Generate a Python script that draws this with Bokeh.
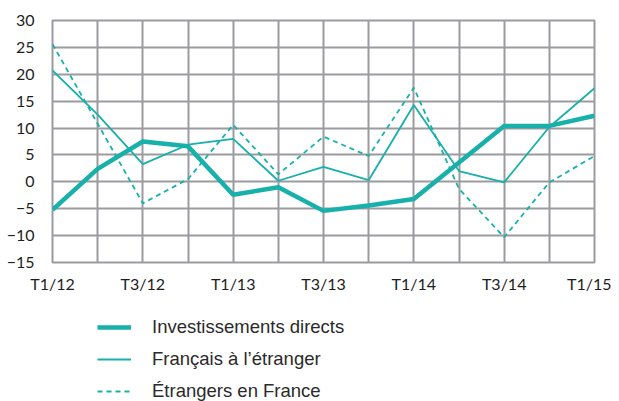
from bokeh.plotting import figure
from bokeh.layouts import column
from bokeh.models import Range1d, FixedTicker, Legend, LegendItem
from bokeh.embed import file_html
from bokeh.resources import INLINE

quarters = list(range(13))
tick_labels = ["T1/12", "", "T3/12", "", "T1/13", "", "T3/13", "", "T1/14", "", "T3/14", "", "T1/15"]
investissements = [-5.2, 2.4, 7.5, 6.6, -2.4, -1.0, -5.4, -4.4, -3.2, 3.6, 10.4, 10.4, 12.3]
francais = [20.7, 12.5, 3.3, 6.9, 8.0, 0.2, 2.8, 0.3, 14.3, 2.0, -0.1, 10.2, 17.4]
etrangers = [25.6, 10.8, -4.0, 0.5, 10.6, 1.4, 8.4, 4.8, 17.5, -1.3, -10.3, -0.1, 4.8]
y_ticks = [-15, -10, -5, 0, 5, 10, 15, 20, 25, 30]
series_names = ["Investissements directs", "Français à l’étranger", "Étrangers en France"]

TEAL = "#17B0AA"
GRID = "#9B9B9F"
TICKFONT = "Lato"
STYLES = [dict(line_width=4.5), dict(line_width=1.8), dict(line_width=1.8, line_dash="5 4")]

p = figure(width=611, height=300, output_backend="svg", toolbar_location=None,
           x_range=Range1d(0, 12), y_range=Range1d(-15, 30),
           min_border_left=52, min_border_right=17, min_border_top=20, min_border_bottom=38)
p.outline_line_color = GRID
p.outline_line_width = 2
p.background_fill_color = "white"

p.xaxis.ticker = FixedTicker(ticks=quarters)
p.xaxis.major_label_overrides = {i: t for i, t in zip(quarters, tick_labels)}
p.yaxis.ticker = FixedTicker(ticks=y_ticks)
for ax in (p.xaxis[0], p.yaxis[0]):
    ax.axis_line_color = None
    ax.major_tick_line_color = None
    ax.minor_tick_line_color = None
    ax.major_label_text_font = TICKFONT
    ax.major_label_text_font_size = "16px"
    ax.major_label_text_color = "#1e1e1e"
p.xaxis.major_label_standoff = 5
p.yaxis.major_label_standoff = 12

p.xgrid.grid_line_color = GRID
p.xgrid.grid_line_width = 2
p.ygrid.grid_line_color = GRID
p.ygrid.grid_line_width = 2

all_series = [investissements, francais, etrangers]
for ys, st in zip(all_series, STYLES):
    p.line(quarters, ys, line_color=TEAL, **st)

# legend panel below the chart (its data lies outside the visible ranges)
lf = figure(width=611, height=101, output_backend="svg", toolbar_location=None,
            x_range=Range1d(100, 101), y_range=Range1d(100, 101),
            x_axis_type=None, y_axis_type=None,
            min_border_left=52, min_border_right=17, min_border_top=0, min_border_bottom=0)
lf.outline_line_color = None
lf.xgrid.visible = False
lf.ygrid.visible = False
items = []
for name, ys, st in zip(series_names, all_series, STYLES):
    r = lf.line(quarters, ys, line_color=TEAL, **st)
    items.append(LegendItem(label=name, renderers=[r]))

legend = Legend(items=items, location=(45, -1))
legend.border_line_alpha = 0
legend.background_fill_alpha = 0
legend.padding = 0
legend.margin = 0
legend.spacing = 10
legend.glyph_width = 34
legend.glyph_height = 20
legend.label_height = 20
legend.label_standoff = 21
legend.label_text_font = "Liberation Sans"
legend.label_text_font_size = "18.5px"
legend.label_text_color = "#2a2a2a"
lf.add_layout(legend, "center")

open("out.html", "w").write(file_html(column(p, lf, spacing=0), INLINE))
